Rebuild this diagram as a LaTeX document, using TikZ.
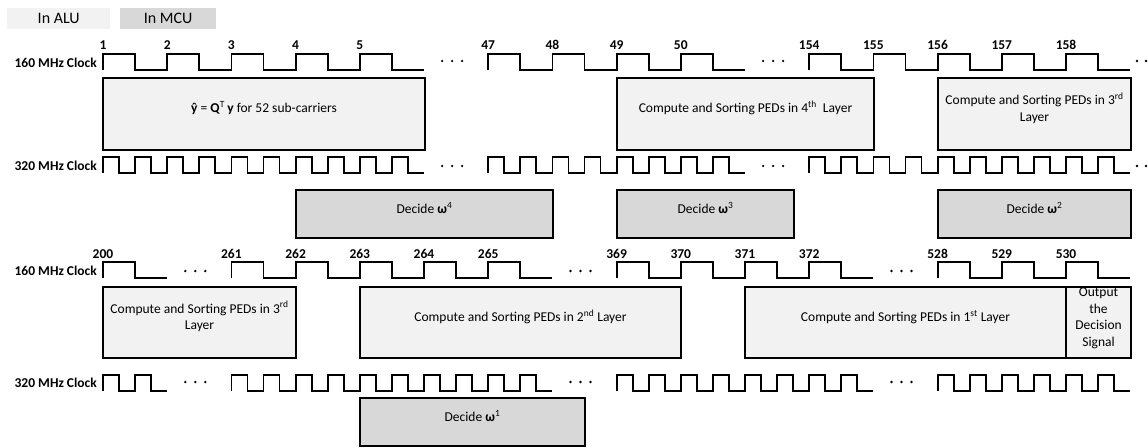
\documentclass[tikz,border=0pt]{standalone}
\usepackage{fontspec}
\setmainfont{Carlito}
\usepackage{tikz}
\usetikzlibrary{fit}
\definecolor{alugray}{RGB}{242,242,242}
\definecolor{mcugray}{RGB}{216,216,216}
\tikzset{
  %% ---- boxes ----
  alubox/.style  = {rectangle, draw=black, line width=1.6pt,
                    fill=alugray, inner sep=0pt, align=center,
                    font=\fontsize{13.5}{16.5}\selectfont},
  mcubox/.style  = {alubox, fill=mcugray},
  keybox/.style  = {rectangle, inner sep=0pt, anchor=north west,
                    minimum height=21pt,
                    font=\fontsize{16}{18}\selectfont},
  %% ---- clocks ----
  wave/.style    = {line width=1.8pt, line join=miter},
  cyc/.style     = {anchor=base, inner sep=0pt,
                    font=\bfseries\fontsize{13.5}{15}\selectfont},
  clkname/.style = {anchor=base east, inner sep=0pt,
                    font=\bfseries\fontsize{13.5}{15}\selectfont},
}
% one run of pulses: first slot, pulses, period, low level
\newcommand{\clkrun}[4]{%
  \draw[wave] ({103+64.2*#1},#4)
    \foreach \p in {1,...,#2}{ -- ++(0,-16) -- ++(#3/2,0) -- ++(0,16) -- ++(#3/2,0)};}
% three dots in a gap slot
\newcommand{\clkgap}[2]{%
  \foreach \d in {-10,0,10}
    \fill ({103+64.2*(#1+0.5)-4+\d},#2) circle (1.3pt);}

\begin{document}
\begin{tikzpicture}[x=1pt, y=-1pt]
\useasboundingbox (0,0) rectangle (1148,447);

%% legend
\node[keybox, fill=alugray, minimum width=103pt] (alu) at (7,8) {In ALU};
\node[keybox, fill=mcugray, minimum width=96pt] (mcu) at (120,8) {In MCU};

%% ---- first half ----
\node[clkname] (ka) at (97,67) {160 MHz Clock};
\clkrun{0}{5}{64.2}{70}
\clkrun{6}{4}{64.2}{70}
\clkrun{11}{5}{64.2}{70}
\foreach \k/\n in {0/1,1/2,2/3,3/4,4/5,6/47,7/48,8/49,9/50,
                   11/154,12/155,13/156,14/157,15/158}
  \node[cyc] (c\n) at ({103+64.2*\k},49) {\n};
\foreach \k in {5,10} { \clkgap{\k}{61} }
\foreach \x in {1137,1146} \fill (\x,61) circle (1.3pt);

\node[alubox, fit={(103,78) (425,150)}] (qty)
  {\textbf{ŷ} = \textbf{Q}\textsuperscript{T}\,\textbf{y} for 52 sub-carriers};
\node[alubox, fit={(617,78) (874,150)}] (ped4)
  {Compute and Sorting PEDs in 4\textsuperscript{th}\ \ Layer};
\node[alubox, fit={(938,78) (1131,150)}] (ped3a)
  {Compute and Sorting PEDs in 3\textsuperscript{rd}\\Layer};

\node[clkname] (kb) at (97,170) {320 MHz Clock};
\clkrun{0}{10}{32.1}{173}
\clkrun{6}{8}{32.1}{173}
\clkrun{11}{10}{32.1}{173}
\foreach \k in {5,10} { \clkgap{\k}{166} }
\foreach \x in {1137,1146} \fill (\x,166) circle (1.3pt);

\node[mcubox, fit={(296,190) (553,238)}] (dec4) {Decide \textbf{ω}\textsuperscript{4}};
\node[mcubox, fit={(617,190) (794,238)}] (dec3) {Decide \textbf{ω}\textsuperscript{3}};
\node[mcubox, fit={(938,190) (1131,238)}] (dec2) {Decide \textbf{ω}\textsuperscript{2}};

%% ---- second half ----
\node[clkname] (kc) at (97,275) {160 MHz Clock};
\clkrun{0}{1}{64.2}{278}
\clkrun{2}{5}{64.2}{278}
\clkrun{8}{4}{64.2}{278}
\clkrun{13}{3}{64.2}{278}
\foreach \k/\n in {0/200,2/261,3/262,4/263,5/264,6/265,8/369,9/370,
                   10/371,11/372,13/528,14/529,15/530}
  \node[cyc] (c\n) at ({103+64.2*\k},258) {\n};
\foreach \k in {1,7,12} { \clkgap{\k}{271} }

\node[alubox, fit={(103,287) (296,358)}] (ped3b)
  {Compute and Sorting PEDs in 3\textsuperscript{rd}\\Layer};
\node[alubox, fit={(360,287) (681,358)}] (ped2)
  {Compute and Sorting PEDs in 2\textsuperscript{nd} Layer};
\node[alubox, fit={(745,287) (1066,358)}] (ped1)
  {Compute and Sorting PEDs in 1\textsuperscript{st} Layer};
\node[alubox, fit={(1066,287) (1131,358)}] (outp)
  {Output\\the\\Decision\\Signal};

\node[clkname] (kd) at (97,387) {320 MHz Clock};
\clkrun{0}{2}{32.1}{391}
\clkrun{2}{10}{32.1}{391}
\clkrun{8}{8}{32.1}{391}
\clkrun{13}{6}{32.1}{391}
\foreach \k in {1,7,12} { \clkgap{\k}{382} }

\node[mcubox, fit={(360,398) (585,446)}] (dec1) {Decide \textbf{ω}\textsuperscript{1}};
\end{tikzpicture}
\end{document}
